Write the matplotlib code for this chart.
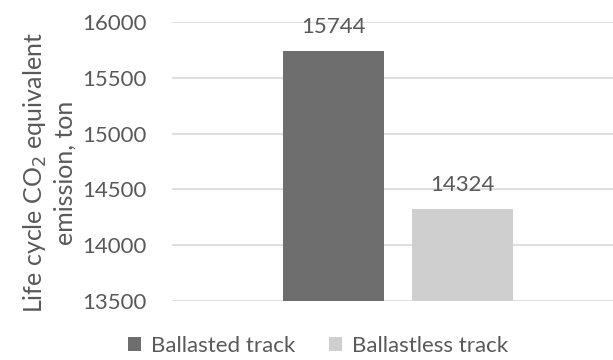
import matplotlib
matplotlib.use("Agg")
import matplotlib.pyplot as plt
from matplotlib.patches import Patch

series = ["Ballasted track", "Ballastless track"]
values = [15744, 14324]
colors = ["#6e6e6e", "#d0cfd0"]
yticks = [13500, 14000, 14500, 15000, 15500, 16000]

plt.rcParams["font.family"] = ["Lato", "DejaVu Sans"]
text_color = "#595959"

fig = plt.figure(figsize=(6.13, 3.6), dpi=100)
W, H = 613, 360
left, right, top, bottom = 172, 613, 22, 301
ax = fig.add_axes([left / W, 1 - bottom / H, (right - left) / W, (bottom - top) / H])

bar_w = 1.0
gap = 0.28
offsets = [-(bar_w + gap) / 2, (bar_w + gap) / 2]
for off, v, c, name in zip(offsets, values, colors, series):
    ax.bar(off, v - yticks[0], bottom=yticks[0], width=bar_w, color=c, label=name, zorder=3)
    ax.annotate(f"{v}", (off, v), xytext=(0, 10), textcoords="offset points",
                ha="center", va="bottom", fontsize=16, color=text_color)

ax.set_xlim(-2.24, 2.13)
ax.set_ylim(yticks[0], yticks[-1])
ax.set_yticks(yticks)
ax.set_yticklabels([str(t) for t in yticks], fontsize=16, color=text_color)
ax.tick_params(axis="y", length=0, pad=18)
ax.set_xticks([])
ax.grid(axis="y", color="#d9d9d9", linewidth=1.2, zorder=0)
for s in ax.spines.values():
    s.set_visible(False)

ax.set_ylabel("Life cycle CO$_2$ equivalent\nemission, ton", fontsize=18,
              color=text_color, linespacing=1.25)
ax.yaxis.set_label_coords(-(left - 77) / (right - left), 0.46)

handles = [Patch(facecolor=c, edgecolor="none") for c in colors]
fig.legend(handles, series, loc="center", bbox_to_anchor=(318 / W, 1 - 346 / H),
           ncol=2, frameon=False, fontsize=16, labelcolor=text_color,
           handlelength=0.6, handleheight=0.6, handletextpad=0.45, columnspacing=1.5)

fig.savefig("out.png", dpi=100)
